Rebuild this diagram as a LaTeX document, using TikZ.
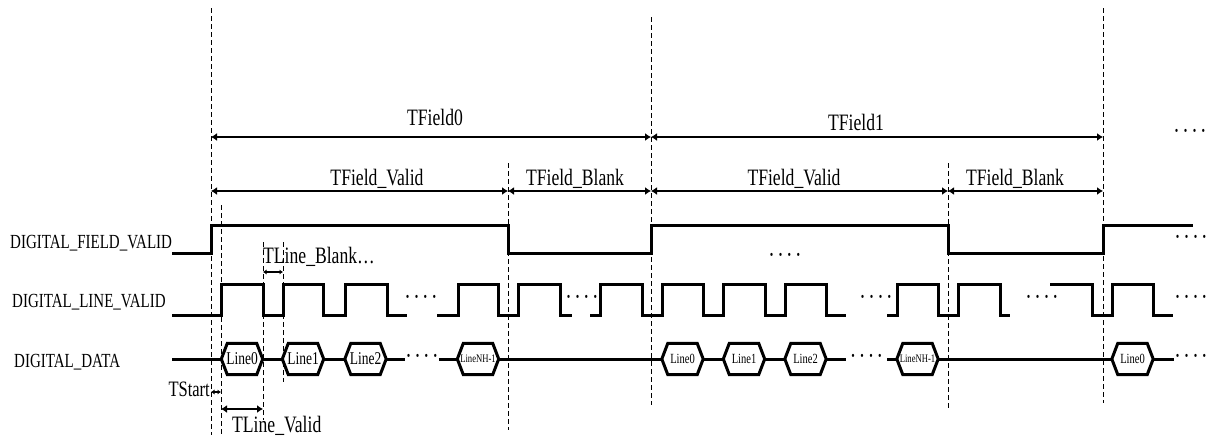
\documentclass[tikz,border=0pt]{standalone}
\usepackage{fontspec}
\setmainfont{Liberation Serif}[FakeStretch=0.75]
\usetikzlibrary{arrows.meta}
\newcommand\fourdots{\textperiodcentered\hspace{2.5pt}\textperiodcentered\hspace{2.5pt}\textperiodcentered\hspace{2.5pt}\textperiodcentered}
\tikzset{
	every wave/.style={
		line width=3pt,
		line join=miter },
	guide line/.style={
		dash pattern=on 5pt off 3pt,
		line width=0.9pt },
	span arrow/.style={
		{Latex[length=6pt,width=8pt]}-{Latex[length=6pt,width=8pt]},
		line width=1.3pt },
	small arrow/.style={
		{Latex[length=3.5pt,width=5pt]}-{Latex[length=3.5pt,width=5pt]},
		line width=1.3pt },
	signal name/.style={
		anchor=base west,
		inner sep=0pt,
		font=\fontsize{20}{20}\selectfont },
	span label/.style={
		anchor=base,
		inner sep=0pt,
		font=\fontsize{23.5}{24}\selectfont },
	data block/.style={
		minimum width=41pt,
		minimum height=31pt,
		inner sep=0pt },
	wave dots/.style={
		inner sep=0pt,
		font=\fontsize{26}{26}\selectfont },
}

\begin{document}
\begin{tikzpicture}[x=1pt, y=-1pt, >=Latex]
		\useasboundingbox (0,0) rectangle (1208,439);

		\foreach \n/\x/\t/\b in {a/211/8/435, b/221/205/435, c/263/242/420, d/283/242/382, e/508/163/430, f/651/17/405, g/948/163/408, h/1103/8/403}
		{
		\coordinate (guide-\n-top) at (\x,\t);
		\coordinate (guide-\n-bot) at (\x,\b);
		\draw [guide line] (guide-\n-top) -- (guide-\n-bot);
		}

		\foreach \x [count=\i from 0] in {211,651,1103}
		\coordinate (field-\i) at (\x,137);

		\foreach \x [count=\i from 0] in {211,508,651,948,1103}
		\coordinate (part-\i) at (\x,191);

		\foreach \a/\b/\t/\x/\y in {0/1/TField0/435/125, 1/2/TField1/856/130}
		\draw [span arrow] (field-\a) -- (field-\b)
		node [span label] at (\x,\y) {\t};

		\foreach \a/\b/\t/\x in {0/1/TField\_Valid/377, 1/2/TField\_Blank/575, 2/3/TField\_Valid/794, 3/4/TField\_Blank/1015}
		\draw [span arrow] (part-\a) -- (part-\b)
		node [span label] at (\x,185) {\t};

		\node [wave dots] (dots-top) at (1190,134) {\fourdots};

		% signal names
		\node [signal name] (name-field) at (10,248) {DIGITAL\_FIELD\_VALID};
		\node [signal name] (name-line) at (12,307) {DIGITAL\_LINE\_VALID};
		\node [signal name] (name-data) at (14,367) {DIGITAL\_DATA};

		% field valid
		\draw [every wave] (172,253) -| (211,225) -| (508,253) -| (651,225) -| (948,253) -| (1103,225) -- (1193,225);
		\node [wave dots] (dots-field-1) at (785,258) {\fourdots};
		\node [wave dots] (dots-field-2) at (1191,240) {\fourdots};

		% line valid
		\draw [every wave] (172,315) -| (221,284) -| (263,315) -| (283,284) -| (323,315) -| (345,284) -| (387,315) -- (407,315);
		\draw [every wave] (437,315) -| (458,284) -| (498,315) -| (518,284) -| (560,315) -- (572,315);
		\draw [every wave] (590,315) -| (600,284) -| (642,315) -| (662,284) -| (703,315) -| (723,284) -| (765,315) -| (785,284) -| (826,315) -- (846,315);
		\draw [every wave] (887,315) -| (897,284) -| (938,315) -| (958,284) -| (1000,315) -- (1010,315);
		\draw [every wave] (1050,284) -| (1092,315) -| (1112,284) -| (1153,315) -- (1173,315);
		\foreach \x [count=\i] in {421,582,876,1042,1191}
		\node [wave dots] (dots-line-\i) at (\x,300) {\fourdots};

		% data
		\foreach \n/\x/\t/\s in {a0/242/Line0/18, a1/303/Line1/18, a2/365.5/Line2/18, a3/478/LineNH-1/11.5, b0/682.5/Line0/14, b1/744/Line1/14, b2/805.5/Line2/14, b3/917.5/LineNH-1/11.5, c0/1132.5/Line0/14}
		\node [data block, font=\fontsize{\s}{\s}\selectfont] (data-\n) at (\x,359) {\t};

		\foreach \n in {a0,a1,a2,a3,b0,b1,b2,b3,c0}
		\draw [every wave] (data-\n.west) -- ([xshift=6pt]data-\n.north west) -- ([xshift=-6pt]data-\n.north east)
		-- (data-\n.east) -- ([xshift=-6pt]data-\n.south east) -- ([xshift=6pt]data-\n.south west) -- cycle;

		\node [wave dots, minimum width=30pt] (dots-data-1) at (422,359) {\fourdots};
		\node [wave dots, minimum width=41pt] (dots-data-2) at (866.5,359) {\fourdots};
		\node [wave dots, minimum width=32pt] (dots-data-3) at (1191,359) {\fourdots};
		\coordinate (data-in) at (172,359);

		\foreach \i/\j in {data-in/data-a0, data-a0/data-a1, data-a1/data-a2, data-a2/dots-data-1, dots-data-1/data-a3, data-a3/data-b0, data-b0/data-b1, data-b1/data-b2, data-b2/dots-data-2, dots-data-2/data-b3, data-b3/data-c0, data-c0/dots-data-3}
		\draw [every wave] (\i.east) -- (\j.west);

		% line timings
		\coordinate (start-0) at (211,392);
		\coordinate (start-1) at (221,392);
		\coordinate (lvalid-0) at (221,409);
		\coordinate (lvalid-1) at (263,409);
		\coordinate (lblank-0) at (263,272);
		\coordinate (lblank-1) at (283,272);
		\draw [small arrow] (start-0) -- (start-1);
		\draw [span arrow] (lvalid-0) -- (lvalid-1);
		\draw [small arrow] (lblank-0) -- (lblank-1);
		\node [span label, anchor=base east, font=\fontsize{22}{22}\selectfont] (tstart) at (210,396) {TStart};
		\node [span label, anchor=base west] (tlinevalid) at (232,432) {TLine\_Valid};
		\node [span label, anchor=base west] (tlineblank) at (263,263) {TLine\_Blank…};
	\end{tikzpicture}
\end{document}
